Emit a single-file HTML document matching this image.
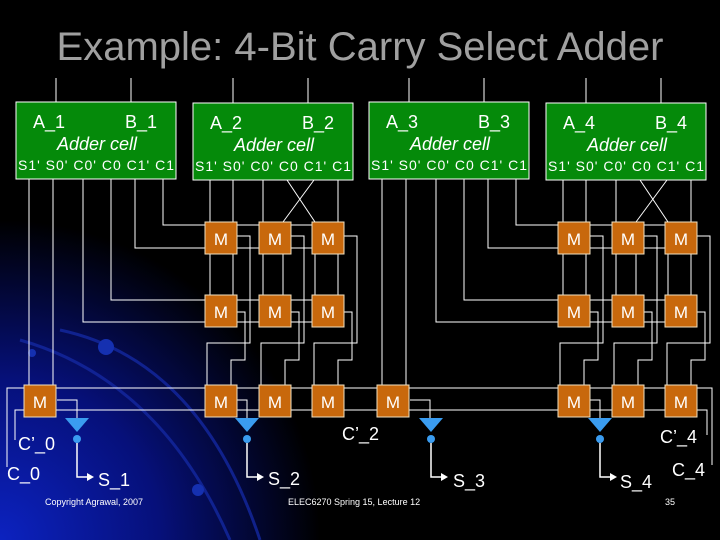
<!DOCTYPE html>
<html><head><meta charset="utf-8"><style>
html,body{margin:0;padding:0;background:#000;}
svg{display:block;}
text{font-family:"Liberation Sans",sans-serif;fill:#fff;}
</style></head><body>
<svg width="720" height="540" viewBox="0 0 720 540" xmlns="http://www.w3.org/2000/svg">
<defs>
<radialGradient id="bg" cx="0" cy="540" r="320" gradientUnits="userSpaceOnUse">
<stop offset="0" stop-color="#0c22c0"/><stop offset="0.5" stop-color="#06107a"/><stop offset="1" stop-color="#000"/>
</radialGradient>
<g id="M"><rect width="32" height="32" fill="#c8680c" stroke="#f0e0c0" stroke-width="1"/><text x="16" y="23" font-size="17" text-anchor="middle">M</text></g>
<g id="buf"><polygon points="-12,418 12,418 0,432" fill="#3a9cf0"/><circle cx="0" cy="439" r="4" fill="#3a9cf0"/>
<polyline points="0,443 0,477 12,477" fill="none" stroke="#fff" stroke-width="1.5"/><polygon points="10,473 17,477 10,481" fill="#fff"/></g>
<g id="box"><rect width="160" height="77" fill="#058a0a" stroke="#fff" stroke-width="1"/></g>
<g id="gA" stroke="#fff" stroke-width="1" fill="none">
<line x1="56" y1="78" x2="56" y2="102"/><line x1="131" y1="78" x2="131" y2="102"/>
<line x1="29" y1="179" x2="29" y2="385"/><line x1="53" y1="179" x2="53" y2="385"/>
<polyline points="83,179 83,322 343,322"/><polyline points="111,179 111,300 343,300"/>
<polyline points="135,179 135,248 343,248"/><polyline points="163,179 163,225 343,225"/>
<polyline points="57,400 77,400 77,418"/>
</g>
<g id="gB" stroke="#fff" stroke-width="1" fill="none">
<line x1="233" y1="78" x2="233" y2="103"/><line x1="308" y1="78" x2="308" y2="103"/>
<line x1="210" y1="180" x2="210" y2="295"/><line x1="233" y1="180" x2="233" y2="295"/>
<line x1="263" y1="180" x2="263" y2="295"/><line x1="283" y1="222" x2="283" y2="295"/>
<line x1="315" y1="222" x2="315" y2="295"/><line x1="338" y1="180" x2="338" y2="295"/>
<line x1="287" y1="180" x2="315" y2="222"/><line x1="314" y1="180" x2="283" y2="222"/>
<polyline points="237,236 250,236 250,343 207,343 207,385"/>
<polyline points="237,312 245,312 245,360 231,360 231,385"/>
<polyline points="291,236 304,236 304,343 261,343 261,385"/>
<polyline points="291,312 299,312 299,360 285,360 285,385"/>
<polyline points="343,236 357,236 357,343 314,343 314,385"/>
<polyline points="343,312 352,312 352,360 338,360 338,385"/>
<polyline points="237,400 247,400 247,418"/>
</g>
</defs>
<rect width="720" height="540" fill="#000"/>
<rect width="720" height="540" fill="url(#bg)"/>
<g fill="none" stroke="#1428a0" stroke-width="3" opacity="0.8">
<path d="M20,340 Q160,380 230,540"/><path d="M60,330 Q200,360 260,540"/>
</g>
<circle cx="106" cy="347" r="8" fill="#1530b0"/><circle cx="198" cy="490" r="6" fill="#1530b0"/><circle cx="32" cy="353" r="4" fill="#1530b0"/>
<text x="360" y="60" font-size="40" text-anchor="middle" style="fill:#a0a0a0">Example: 4-Bit Carry Select Adder</text>

<g stroke="#fff" stroke-width="1" fill="none">
<polyline points="15,440 15,410 707,410 707,435"/>
<polyline points="7,467 7,388 712,388 712,465"/>
</g>
<use href="#gA"/><use href="#gA" transform="translate(353,0)"/>
<use href="#gB"/><use href="#gB" transform="translate(353,0)"/>

<g><use href="#box" x="16" y="102"/><use href="#box" x="193" y="103"/><use href="#box" x="369" y="102"/><use href="#box" x="546" y="103"/></g>
<g font-size="18">
<text x="33" y="128">A_1</text><text x="125" y="128">B_1</text>
<text x="210" y="129">A_2</text><text x="302" y="129">B_2</text>
<text x="386" y="128">A_3</text><text x="478" y="128">B_3</text>
<text x="563" y="129">A_4</text><text x="655" y="129">B_4</text>
</g>
<g font-size="18" font-style="italic" text-anchor="middle">
<text x="97" y="150">Adder cell</text><text x="274" y="151">Adder cell</text>
<text x="450" y="150">Adder cell</text><text x="627" y="151">Adder cell</text>
</g>
<g font-size="14" text-anchor="middle">
<text x="96" y="170" textLength="156">S1' S0' C0' C0 C1' C1</text>
<text x="273" y="171" textLength="156">S1' S0' C0' C0 C1' C1</text>
<text x="449" y="170" textLength="156">S1' S0' C0' C0 C1' C1</text>
<text x="626" y="171" textLength="156">S1' S0' C0' C0 C1' C1</text>
</g>

<g>
<use href="#M" x="205" y="222"/><use href="#M" x="259" y="222"/><use href="#M" x="312" y="222"/>
<use href="#M" x="205" y="295"/><use href="#M" x="259" y="295"/><use href="#M" x="312" y="295"/>
<use href="#M" x="205" y="385"/><use href="#M" x="259" y="385"/><use href="#M" x="312" y="385"/>
<use href="#M" x="558" y="222"/><use href="#M" x="612" y="222"/><use href="#M" x="665" y="222"/>
<use href="#M" x="558" y="295"/><use href="#M" x="612" y="295"/><use href="#M" x="665" y="295"/>
<use href="#M" x="558" y="385"/><use href="#M" x="612" y="385"/><use href="#M" x="665" y="385"/>
<use href="#M" x="24" y="385"/><use href="#M" x="377" y="385"/>
</g>
<use href="#buf" x="77"/><use href="#buf" x="247"/><use href="#buf" x="431"/><use href="#buf" x="600"/>

<g font-size="18">
<text x="18" y="450">C’_0</text><text x="7" y="480">C_0</text>
<text x="98" y="486">S_1</text><text x="268" y="485">S_2</text>
<text x="453" y="487">S_3</text><text x="620" y="488">S_4</text>
<text x="342" y="440">C’_2</text><text x="660" y="443">C’_4</text><text x="672" y="476">C_4</text>
</g>
<g font-size="9">
<text x="45" y="505">Copyright Agrawal, 2007</text>
<text x="288" y="505">ELEC6270 Spring 15, Lecture 12</text>
<text x="665" y="505">35</text>
</g>
</svg>
</body></html>
